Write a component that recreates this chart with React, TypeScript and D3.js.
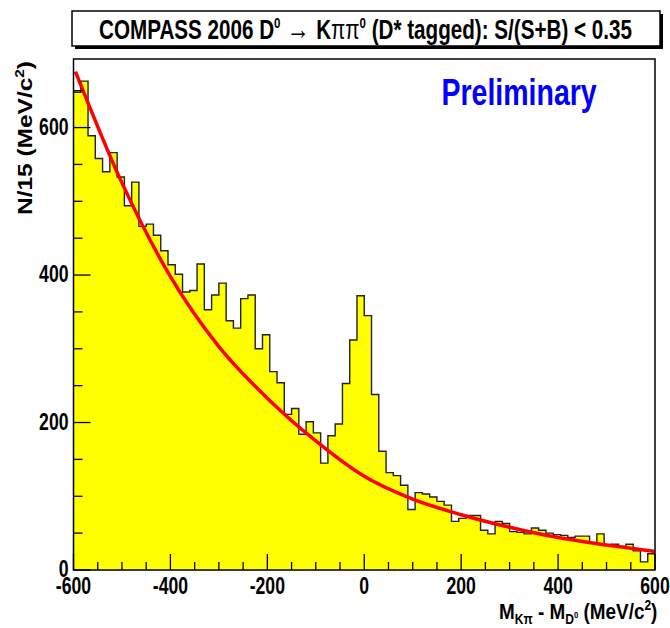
import React from "react";
import * as d3 from "d3";

// Histogram: M(Kπ) - M(D0), 15 MeV bins from -600 to 600
const binStart = -600;
const binWidth = 15;
const binValues = [
  648, 663, 589, 558, 540, 566, 533, 494, 526, 466,
  469, 454, 433, 414, 401, 377, 379, 415, 353, 373,
  389, 338, 328, 368, 373, 300, 319, 269, 254, 211,
  219, 184, 201, 186, 145, 182, 198, 253, 312, 372,
  345, 238, 161, 132, 128, 115, 82, 105, 103, 99,
  93, 88, 66, 70, 74, 74, 54, 49, 66, 63,
  52, 51, 49, 57, 54, 50, 48, 47, 44, 46,
  46, 37, 49, 33, 35, 32, 35, 26, 11, 22,
];

// Background fit curve (red)
const fitX = [-596, -500, -400, -300, -200, -100, 0, 100, 200, 300, 400, 500, 600];
const fitY = [676, 525, 398, 303, 233, 175, 127, 96, 75, 58, 44, 34, 25];

const xTicksMajor = [-600, -400, -200, 0, 200, 400, 600];
const yTicksMajor = [0, 200, 400, 600];

const FONT = "'Liberation Sans', Arial, Helvetica, sans-serif";

export default function App() {
  const W = 670;
  const H = 628;
  const left = 73.5;
  const right = 655;
  const top = 59;
  const bottom = 570;

  const x = d3.scaleLinear().domain([-600, 600]).range([left, right]);
  const y = d3.scaleLinear().domain([0, 693]).range([bottom, top]);

  const steps: [number, number][] = binValues.map((v, i) => [binStart + i * binWidth, v]);
  steps.push([binStart + binValues.length * binWidth, binValues[binValues.length - 1]]);

  const area = d3
    .area<[number, number]>()
    .x((d) => x(d[0]))
    .y0(y(0))
    .y1((d) => y(d[1]))
    .curve(d3.curveStepAfter);
  const outline = d3
    .line<[number, number]>()
    .x((d) => x(d[0]))
    .y((d) => y(d[1]))
    .curve(d3.curveStepAfter);

  const fitLine = d3
    .line<number>()
    .x((_, i) => x(fitX[i]))
    .y((d) => y(d))
    .curve(d3.curveMonotoneX);

  const xMinor = d3.range(-600, 601, 50);
  const yMinor = d3.range(0, 693, 50);

  const tickFont = 23.5;
  const sx = 0.75;

  return (
    <svg
      width={W}
      height={H}
      style={{ position: "absolute", left: 0, top: 0, display: "block", background: "#fff" }}
    >
      <rect x={0} y={0} width={W} height={H} fill="#fff" />

      {/* histogram */}
      <path d={area(steps) || ""} fill="#ffff00" stroke="none" />
      <path d={outline(steps) || ""} fill="none" stroke="#222" strokeWidth={1.4} />

      {/* fit */}
      <path d={fitLine(fitY) || ""} fill="none" stroke="#ff0000" strokeWidth={3.5} />

      {/* frame */}
      <rect x={left} y={top} width={right - left} height={bottom - top} fill="none" stroke="#000" strokeWidth={1.5} />

      {/* ticks */}
      {xMinor.map((t) => (
        <line
          key={"xm" + t}
          x1={x(t)}
          x2={x(t)}
          y1={bottom}
          y2={bottom - (t % 200 === 0 ? 16 : 8)}
          stroke="#000"
          strokeWidth={1.3}
        />
      ))}
      {yMinor.map((t) => (
        <line
          key={"ym" + t}
          x1={left}
          x2={left + (t % 200 === 0 ? 17 : 9)}
          y1={y(t)}
          y2={y(t)}
          stroke="#000"
          strokeWidth={1.3}
        />
      ))}

      {/* x tick labels */}
      {xTicksMajor.map((t) => (
        <text
          key={"xl" + t}
          transform={`translate(${x(t)},594) scale(${sx},1)`}
          textAnchor="middle"
          fontFamily={FONT}
          fontWeight="bold"
          fontSize={tickFont}
          fill="#000"
        >
          {t}
        </text>
      ))}
      {/* y tick labels */}
      {yTicksMajor.map((t) => (
        <text
          key={"yl" + t}
          transform={`translate(68.5,${y(t) + 7}) scale(${sx},1)`}
          textAnchor="end"
          fontFamily={FONT}
          fontWeight="bold"
          fontSize={tickFont}
          fill="#000"
        >
          {t}
        </text>
      ))}

      {/* y axis title */}
      <text
        transform="translate(32,215) rotate(-90) scale(1.02,0.85)"
        fontFamily={FONT}
        fontWeight="bold"
        fontSize={24}
        fill="#000"
      >
        N/15 (MeV/c<tspan fontSize={15} dy={-10}>2</tspan>
        <tspan dy={10}>)</tspan>
      </text>

      {/* x axis title */}
      <text
        transform="translate(499,619) scale(0.86,1)"
        fontFamily={FONT}
        fontWeight="bold"
        fontSize={22}
        fill="#000"
      >
        M<tspan fontSize={14} dy={5}>Kπ</tspan>
        <tspan dy={-5}> - M</tspan>
        <tspan fontSize={14} dy={5}>D</tspan>
        <tspan fontSize={9} dy={-6}>0</tspan>
        <tspan dy={1}> (MeV/c</tspan>
        <tspan fontSize={14} dy={-9}>2</tspan>
        <tspan dy={9}>)</tspan>
      </text>

      {/* title box */}
      <rect x={75} y={14} width={588} height={35} fill="#000" />
      <rect x={72} y={11} width={588} height={35} fill="#fff" stroke="#000" strokeWidth={1.5} />
      <text
        transform="translate(99,39) scale(0.765,1)"
        fontFamily={FONT}
        fontWeight="bold"
        fontSize={27}
        fill="#000"
      >
        COMPASS 2006 D<tspan fontSize={15} dy={-11}>0</tspan>
        <tspan dy={11} fontWeight="normal" fontSize={30}> → </tspan>
        <tspan>K</tspan>
        <tspan fontWeight="normal">ππ</tspan>
        <tspan fontSize={15} dy={-11}>0</tspan>
        <tspan dy={11}> (D* tagged): S/(S+B) &lt; 0.35</tspan>
      </text>

      {/* Preliminary */}
      <text
        transform="translate(441.5,105) scale(0.77,1)"
        fontFamily={FONT}
        fontWeight="bold"
        fontSize={37}
        fill="#0000ff"
      >
        Preliminary
      </text>
    </svg>
  );
}
